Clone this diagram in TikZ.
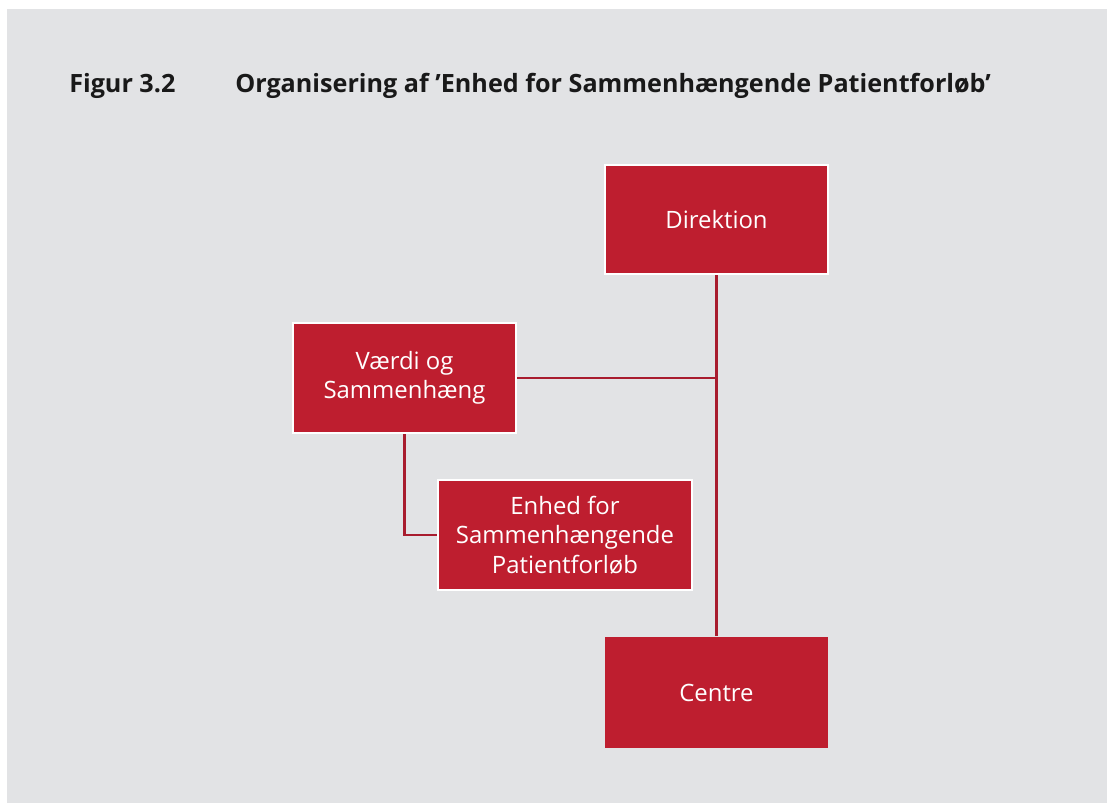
\documentclass[tikz,border=0pt]{standalone}
\usepackage{fontspec}
\setmainfont{Open Sans}
\usetikzlibrary{positioning}
\definecolor{bggray}{HTML}{E2E3E5}
\definecolor{boxred}{HTML}{BE1E2F}
\definecolor{linered}{HTML}{A81C2E}
\begin{document}
\begin{tikzpicture}[x=0.025cm,y=-0.025cm,
  unit/.style={fill=boxred,draw=white,line width=1.4pt,text=white,align=center,
    font=\fontsize{17}{21}\selectfont,inner sep=0pt},
  heading/.style={anchor=west,inner sep=0pt,font=\fontsize{17.9}{22}\selectfont\bfseries,text=black!90},
  link/.style={draw=linered,line width=2pt}]

  \useasboundingbox (0,0) rectangle (1107,803);
  \fill[bggray] (7,9) rectangle (1107,803);

  \node (fignr) at (69,86) [heading] {Figur 3.2};
  \node (figtitle) at (235,86) [heading]
    {Organisering af ’Enhed for Sammenhængende Patientforløb’};

  \node (direktion) at (716.5,219.5) [unit,minimum width=5.575cm,minimum height=2.725cm] {Direktion};
  \node (vaerdi) at (404.5,378) [unit,minimum width=5.575cm,minimum height=2.75cm] {Værdi og\\Sammenhæng};
  \node (enhed) at (565,535) [unit,minimum width=6.35cm,minimum height=2.75cm] {Enhed for\\Sammenhængende\\Patientforløb};
  \node (centre) at (716.5,692.5) [unit,draw=none,minimum width=5.575cm,minimum height=2.775cm] {Centre};

  \draw[link] (direktion.south) -- (centre.north);
  \draw[link] (vaerdi.east) -- (vaerdi.east -| direktion.south);
  \draw[link] (vaerdi.south) |- (enhed.west);

\end{tikzpicture}
\end{document}
